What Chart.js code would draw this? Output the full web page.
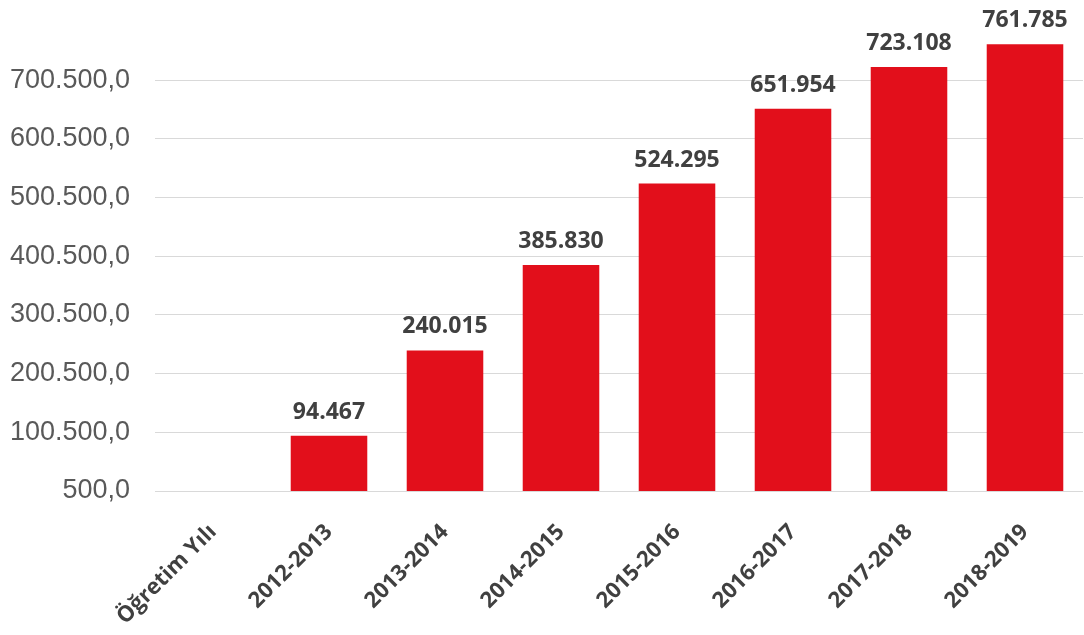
<!DOCTYPE html>
<html>
<head>
<meta charset="utf-8">
<script src="https://cdn.jsdelivr.net/npm/chart.js@4"></script>
<style>
  html, body { margin: 0; padding: 0; background: #fff; }
  #wrap { width: 1084px; height: 635px; }
</style>
</head>
<body>
<div id="wrap"><canvas id="ogrenciChart"></canvas></div>
<script>
// kategoriler (ilki sadece eksen başlığı, değeri yok)
const years = ["Öğretim Yılı", "2012-2013", "2013-2014", "2014-2015", "2015-2016", "2016-2017", "2017-2018", "2018-2019"];
const counts = [null, 94467, 240015, 385830, 524295, 651954, 723108, 761785];
const yTicks = [500, 100500, 200500, 300500, 400500, 500500, 600500, 700500];

// Türkçe sayı biçimi: 700.500,0
function fmt(v, dec) {
  const parts = v.toFixed(dec).split(".");
  const whole = parts[0].replace(/\B(?=(\d{3})+(?!\d))/g, ".");
  return parts.length > 1 ? whole + "," + parts[1] : whole;
}

// çubukların üstüne değer yaz
const valueLabels = {
  id: "valueLabels",
  afterDatasetsDraw(chart) {
    const ctx = chart.ctx;
    const meta = chart.getDatasetMeta(0);
    ctx.save();
    ctx.font = "bold 23px 'Open Sans'";
    ctx.fillStyle = "#404040";
    ctx.textAlign = "center";
    ctx.textBaseline = "alphabetic";
    meta.data.forEach((bar, i) => {
      if (counts[i] == null) return;
      ctx.fillText(fmt(counts[i], 0), bar.x, bar.y - 17);
    });
    ctx.restore();
  }
};

new Chart(document.getElementById("ogrenciChart"), {
  type: "bar",
  data: {
    labels: years,
    datasets: [{
      data: counts,
      backgroundColor: "#e20f1b",
      categoryPercentage: 1,
      barPercentage: 0.66
    }]
  },
  options: {
    responsive: true,
    maintainAspectRatio: false,
    animation: false,
    layout: { padding: { top: 21, right: 1, left: 0, bottom: 0 } },
    plugins: {
      legend: { display: false },
      tooltip: { enabled: false }
    },
    scales: {
      x: {
        grid: { display: false },
        border: { display: false },
        afterFit(scale) { scale.height = 144; },
        ticks: {
          minRotation: 45,
          maxRotation: 45,
          color: "#404040",
          font: { family: "'Open Sans'", size: 22, weight: "bold" },
          padding: 20
        }
      },
      y: {
        min: 500,
        max: 767000,
        afterBuildTicks(scale) {
          scale.ticks = yTicks.map(v => ({ value: v }));
        },
        afterFit(scale) { scale.width = 155; },
        grid: { color: "#d9d9d9", drawTicks: false },
        border: { display: false },
        ticks: {
          color: "#595959",
          font: { family: "'Liberation Sans', Arial", size: 27 },
          padding: 25,
          callback: v => fmt(v, 1)
        }
      }
    }
  },
  plugins: [valueLabels]
});
</script>
</body>
</html>
